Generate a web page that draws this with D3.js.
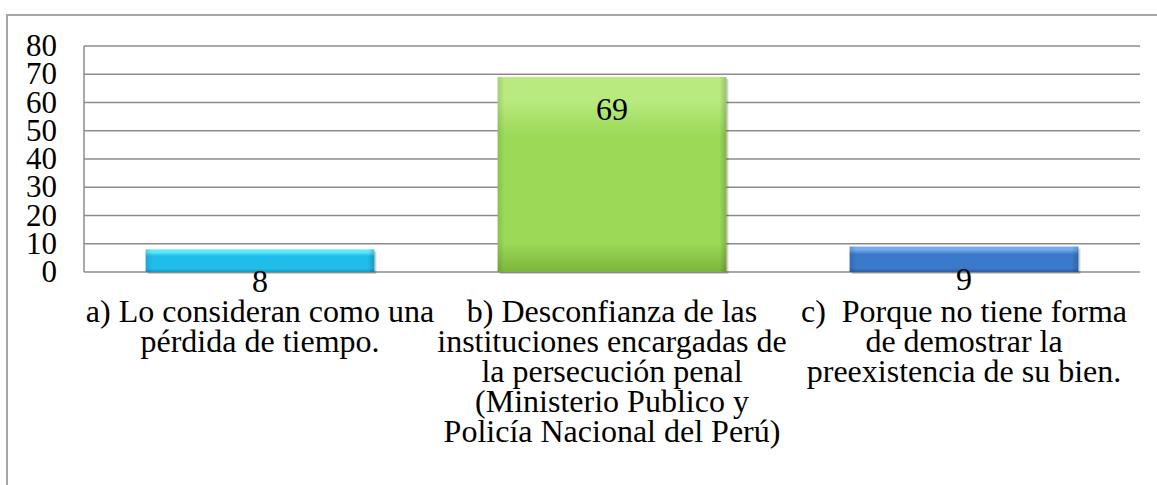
<!DOCTYPE html>
<html>
<head>
<meta charset="utf-8">
<script src="https://cdn.jsdelivr.net/npm/d3@7"></script>
</head>
<body style="margin:0">
<svg id="chart" width="1157" height="485"></svg>
<script>
const categories = ['a', 'b', 'c']
const values = [8, 69, 9]
const labelLines = [
  ['a) Lo consideran como una', 'pérdida de tiempo.'],
  ['b) Desconfianza de las', 'instituciones encargadas de', 'la persecución penal', '(Ministerio Publico y', 'Policía Nacional del Perú)'],
  ['c)\u00a0 Porque no tiene forma', 'de demostrar la', 'preexistencia de su bien.']
]
const yTicks = [0, 10, 20, 30, 40, 50, 60, 70, 80]
const barColors = [
  { base: '#1fbde9', light: '#5fe9fc', dark: '#1596c4' },
  { base: '#9bd957', light: '#b9ea80', dark: '#7cb63c' },
  { base: '#3b7acb', light: '#74acec', dark: '#2c5fa6' }
]
const FONT = "'Liberation Serif'"

const svg = d3.select('#chart')
const plot = { left: 84, right: 1140, top: 46, bottom: 272 }

const x = d3.scaleBand().domain(categories).range([plot.left, plot.right]).paddingInner(0.35).paddingOuter(0.175)
const y = d3.scaleLinear().domain([0, 80]).range([plot.bottom, plot.top])

// outer frame (only top and left visible)
svg.append('path')
  .attr('d', `M7,485 L7,15 L1157,15`)
  .attr('fill', 'none')
  .attr('stroke', '#a6a6a6')
  .attr('stroke-width', 2)

const defs = svg.append('defs')
barColors.forEach((c, i) => {
  const g = defs.append('linearGradient').attr('id', `vgrad${i}`)
    .attr('x1', 0).attr('y1', 0).attr('x2', 0).attr('y2', 1)
  g.append('stop').attr('offset', '0%').attr('stop-color', c.light)
  g.append('stop').attr('offset', '12%').attr('stop-color', c.light)
  g.append('stop').attr('offset', '30%').attr('stop-color', c.base)
  g.append('stop').attr('offset', '85%').attr('stop-color', c.base)
  g.append('stop').attr('offset', '100%').attr('stop-color', c.dark)
})
const hg = defs.append('linearGradient').attr('id', 'hgrad')
  .attr('x1', 0).attr('y1', 0).attr('x2', 1).attr('y2', 0)
hg.append('stop').attr('offset', '0%').attr('stop-color', '#000').attr('stop-opacity', 0.12)
hg.append('stop').attr('offset', '3%').attr('stop-color', '#000').attr('stop-opacity', 0)
hg.append('stop').attr('offset', '97%').attr('stop-color', '#000').attr('stop-opacity', 0)
hg.append('stop').attr('offset', '100%').attr('stop-color', '#000').attr('stop-opacity', 0.18)

// gridlines
yTicks.forEach(t => {
  svg.append('line')
    .attr('x1', plot.left).attr('x2', plot.right)
    .attr('y1', y(t)).attr('y2', y(t))
    .attr('stroke', '#8c8c8c')
    .attr('stroke-width', 1.5)
})

// left axis line
svg.append('line')
  .attr('x1', plot.left).attr('x2', plot.left)
  .attr('y1', y(80)).attr('y2', y(0))
  .attr('stroke', '#8c8c8c')
  .attr('stroke-width', 1.5)

// bars with a soft offset shadow
categories.forEach((cat, i) => {
  const bx = x(cat), bw = x.bandwidth()
  const by = y(values[i]), bh = y(0) - y(values[i])
  svg.append('rect')
    .attr('x', bx + 2).attr('y', by + 2).attr('width', bw).attr('height', bh)
    .attr('fill', '#000').attr('fill-opacity', 0.18)
  svg.append('rect')
    .attr('x', bx).attr('y', by).attr('width', bw).attr('height', bh)
    .attr('fill', `url(#vgrad${i})`)
  svg.append('rect')
    .attr('x', bx).attr('y', by).attr('width', bw).attr('height', bh)
    .attr('fill', 'url(#hgrad)')
})

// tick labels
yTicks.forEach(t => {
  svg.append('text')
    .attr('x', 57)
    .attr('y', y(t) + 10)
    .attr('text-anchor', 'end')
    .style('font-family', FONT)
    .style('font-size', '31px')
    .text(t)
})

// value labels
values.forEach((v, i) => {
  svg.append('text')
    .attr('x', x(categories[i]) + x.bandwidth() / 2)
    .attr('y', y(v) + 43)
    .attr('text-anchor', 'middle')
    .style('font-family', FONT)
    .style('font-size', '32px')
    .text(v)
})

// category labels, one text element per line
categories.forEach((cat, i) => {
  const cx = x(cat) + x.bandwidth() / 2
  labelLines[i].forEach((line, j) => {
    svg.append('text')
      .attr('x', cx)
      .attr('y', 322 + j * 30)
      .attr('text-anchor', 'middle')
      .style('font-family', FONT)
      .style('font-size', '32px')
      .text(line)
  })
})
</script>
</body>
</html>
